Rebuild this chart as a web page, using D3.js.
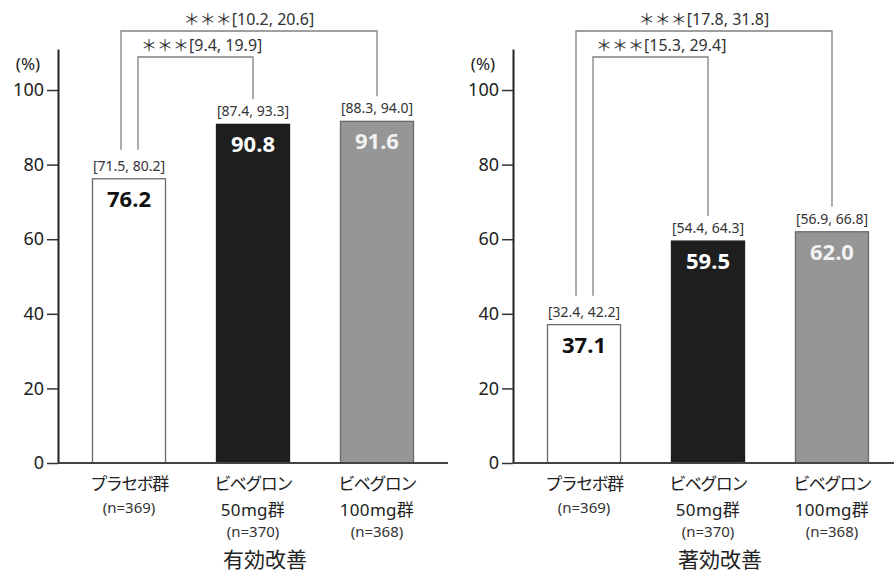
<!DOCTYPE html>
<html><head><meta charset="utf-8">
<script src="https://cdn.jsdelivr.net/npm/d3@7"></script>
<style>
body{margin:0;background:#fff;}
text{font-family:"Noto Sans","Noto Sans CJK JP",sans-serif;}
</style></head>
<body><svg id="c" width="894" height="572"></svg>
<script>
const categories = [["プラセボ群"], ["ビベグロン","50mg群"], ["ビベグロン","100mg群"]];
const catKeys = ["placebo","v50","v100"];
const nLabels = ["(n=369)","(n=370)","(n=368)"];
const titles = ["有効改善","著効改善"];
const values1 = [76.2, 90.8, 91.6];
const ci1 = ["[71.5, 80.2]","[87.4, 93.3]","[88.3, 94.0]"];
const values2 = [37.1, 59.5, 62.0];
const ci2 = ["[32.4, 42.2]","[54.4, 64.3]","[56.9, 66.8]"];
const brackets1 = [{to:1, label:"＊＊＊[9.4, 19.9]"},{to:2, label:"＊＊＊[10.2, 20.6]"}];
const brackets2 = [{to:1, label:"＊＊＊[15.3, 29.4]"},{to:2, label:"＊＊＊[17.8, 31.8]"}];
const yTicks = [0,20,40,60,80,100];

const fills = ["#ffffff","#1e1e1e","#969696"];
const strokes = ["#6a6a6a","#1e1e1e","#6a6a6a"];
const valColors = ["#111","#fff","#f2f2f2"];

const svg = d3.select("#c");
const y = d3.scaleLinear().domain([0,111]).range([463,49]);

function panel(axisX, xEnd, values, cis, brackets, title){
  const g = svg.append("g");
  const x = d3.scaleBand().domain(catKeys).range([axisX+34, axisX+356]).paddingInner(0.403).paddingOuter(0);
  // bars
  g.selectAll("rect.bar").data(values).join("rect")
    .attr("x",(d,i)=>x(catKeys[i])+0.5).attr("y",d=>y(d))
    .attr("width",x.bandwidth()-1).attr("height",d=>y(0)-y(d))
    .attr("fill",(d,i)=>fills[i]).attr("stroke",(d,i)=>strokes[i]).attr("stroke-width",1.3);
  // value labels
  g.selectAll("text.val").data(values).join("text")
    .attr("x",(d,i)=>x(catKeys[i])+x.bandwidth()/2).attr("y",d=>y(d)+28)
    .attr("text-anchor","middle").attr("font-size",22).attr("font-weight","bold")
    .attr("fill",(d,i)=>valColors[i]).text(d=>d.toFixed(1));
  // CI labels
  g.selectAll("text.ci").data(values).join("text")
    .attr("x",(d,i)=>x(catKeys[i])+x.bandwidth()/2).attr("y",d=>y(d)-8)
    .attr("text-anchor","middle").attr("font-size",14).attr("fill","#333")
    .text((d,i)=>cis[i]);
  // brackets
  const cx = i=>x(catKeys[i])+x.bandwidth()/2;
  const bTop = [57,31];
  const lOff = [9,-8];
  brackets.forEach((b,k)=>{
    const lx = cx(0)+lOff[k], rx = cx(b.to);
    const ty = bTop[k];
    g.append("path").attr("fill","none").attr("stroke","#808080").attr("stroke-width",1.3)
      .attr("d",`M${lx},${y(values[0])-29}V${ty}H${rx}V${y(values[b.to])-25}`);
    const t = g.append("text").attr("y",ty-6).attr("font-size",16).attr("fill","#333")
      .text(b.label);
    if(k===0) t.attr("x",lx+3).attr("text-anchor","start");
    else t.attr("x",(lx+rx)/2).attr("text-anchor","middle");
  });
  // y axis
  const ay = g.append("g").attr("transform",`translate(${axisX},0)`)
    .call(d3.axisLeft(y).tickValues(yTicks).tickSize(11).tickSizeOuter(0).tickPadding(3));
  ay.select(".domain").attr("stroke","#222").attr("stroke-width",2);
  ay.selectAll(".tick line").attr("stroke","#333").attr("stroke-width",1.5);
  ay.selectAll(".tick text").attr("font-size",18).attr("fill","#222")
    .attr("font-family","'Noto Sans','Noto Sans CJK JP',sans-serif");
  g.append("text").attr("x",axisX-30).attr("y",70).attr("text-anchor","middle")
    .attr("font-size",17).attr("fill","#222").text("(%)");
  // x axis line
  g.append("line").attr("x1",axisX).attr("x2",xEnd).attr("y1",y(0)).attr("y2",y(0))
    .attr("stroke","#444").attr("stroke-width",1.8);
  // category labels
  categories.forEach((lines,i)=>{
    const c = cx(i);
    lines.forEach((ln,j)=>{
      const kana = /[\u30A0-\u30FF]/.test(ln);
      g.append("text").attr("x",c).attr("y",490+j*26).attr("text-anchor","middle")
        .attr("font-size",17).attr("fill","#222").attr("letter-spacing",kana?-1.5:0.3).text(ln);
    });
    g.append("text").attr("x",c).attr("y",lines.length===1?513:537).attr("text-anchor","middle")
      .attr("font-size",15).attr("fill","#333").text(nLabels[i]);
  });
  g.append("text").attr("x",cx(1)+12).attr("y",567).attr("text-anchor","middle")
    .attr("font-size",21).attr("fill","#222").text(title);
}
panel(58, 448, values1, ci1, brackets1, titles[0]);
panel(513, 894, values2, ci2, brackets2, titles[1]);
</script></body></html>
